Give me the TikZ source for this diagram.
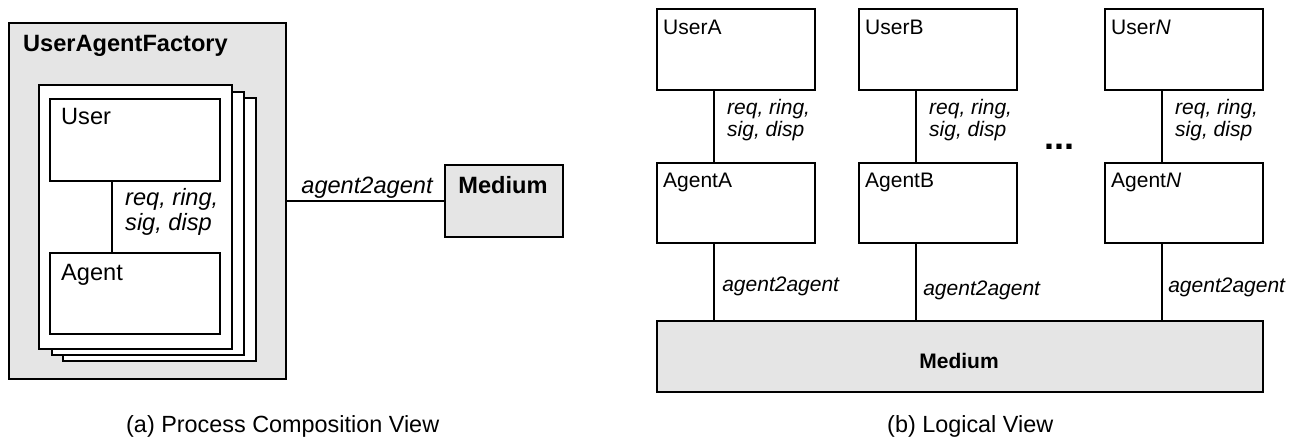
\documentclass[tikz,border=0pt]{standalone}
\usepackage{fontspec}
\setmainfont{Liberation Sans}
\definecolor{boxgray}{RGB}{229,229,229}
\newcommand\sizeleft{\fontsize{23.6}{25}\selectfont}
\newcommand\sizeright{\fontsize{21}{22}\selectfont}
\newcommand\sizecap{\fontsize{23.4}{26}\selectfont}
\begin{document}
\begin{tikzpicture}[x=1pt,y=-1pt,
  box/.style={draw, line width=2.2pt, fill=white, inner sep=0pt, anchor=north west},
  graybox/.style={box, fill=boxgray},
  wire/.style={line width=1.9pt},
  txt/.style={inner sep=0pt, anchor=base west},
  lefttxt/.style={txt, font=\sizeleft},
  righttxt/.style={txt, font=\sizeright},
]
\useasboundingbox (0,0) rectangle (1298,438);

% ---------- (a) process composition view ----------
\node[graybox, minimum width=277pt, minimum height=356pt] (factory) at (8,22) {};
\node[lefttxt, font=\sizeleft\bfseries] (factorytitle) at (23,52) {UserAgentFactory};
\node[box, minimum width=193pt, minimum height=263pt] (page3) at (62,97) {};
\node[box, minimum width=192pt, minimum height=263pt] (page2) at (51,91) {};
\node[box, minimum width=193pt, minimum height=264pt] (page1) at (38,84) {};
\node[box, minimum width=170pt, minimum height=82pt] (User) at (49,98) {};
\node[box, minimum width=170pt, minimum height=81pt] (Agent) at (49,252) {};
\node[lefttxt] (usertxt) at (61,125) {User};
\node[lefttxt] (agenttxt) at (61,280) {Agent};
\draw[wire] ([xshift=-23pt]User.south) -- ([xshift=-23pt]Agent.north);
\node[lefttxt, font=\sizeleft\itshape] (sigL1) at (125,206) {req, ring,};
\node[lefttxt, font=\sizeleft\itshape] (sigL2) at (125,231) {sig, disp};

\node[graybox, minimum width=118pt, minimum height=72pt] (mediumL) at (444,164) {};
\node[lefttxt, font=\sizeleft\bfseries, anchor=base] (mediumLtxt) at (503,194) {Medium};
\draw[wire] (factory.east) -- (mediumL.west);
\node[lefttxt, font=\sizeleft\itshape, anchor=base] (a2aL) at (367,194) {agent2agent};

\node[txt, font=\sizecap] (capA) at (126,432) {(a) Process Composition View};

% ---------- (b) logical view ----------
\foreach \n/\x/\lab in {A/656/A, B/858/B, N/1104/\textit{N}}{
  \node[box, minimum width=158pt, minimum height=81pt] (User\n) at (\x,8) {};
  \node[box, minimum width=158pt, minimum height=80pt] (Agent\n) at (\x,162) {};
  \node[righttxt] (User\n txt) at (\x+7,35) {User\lab};
  \node[righttxt] (Agent\n txt) at (\x+7,188) {Agent\lab};
  \draw[wire] ([xshift=-22pt]User\n.south) -- ([xshift=-22pt]Agent\n.north);
  \node[righttxt, font=\sizeright\itshape] (sig\n1) at (\x+71,115) {req, ring,};
  \node[righttxt, font=\sizeright\itshape] (sig\n2) at (\x+71,137) {sig, disp};
}

\node[graybox, minimum width=606pt, minimum height=71pt] (mediumR) at (656,320) {};
\node[righttxt, font=\sizeright\bfseries, anchor=base] (mediumRtxt) at (959,368) {Medium};

\foreach \n/\dx/\by in {A/8/291, B/7/295, N/6/293}{
  \coordinate (tap\n) at ([xshift=-22pt]Agent\n.south);
  \draw[wire] (tap\n) -- (tap\n |- mediumR.north);
  \node[righttxt, font=\sizeright\itshape] (a2a\n) at ([xshift=\dx pt]tap\n |- 0,\by) {agent2agent};
}

\node[txt, font=\fontsize{36}{36}\selectfont\bfseries] (dots) at (1044,150) {...};

\node[txt, font=\sizecap] (capB) at (887,432) {(b) Logical View};
\end{tikzpicture}
\end{document}
